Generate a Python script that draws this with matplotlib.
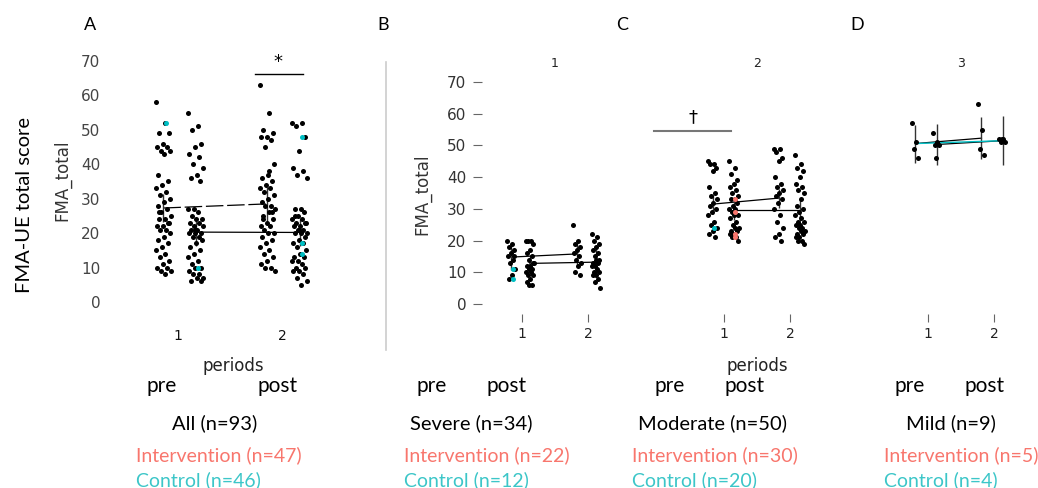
import numpy as np
import matplotlib.pyplot as plt
from matplotlib.lines import Line2D

W, H = 1038, 488
INT_COL = '#F8766D'
CTRL_COL = '#00BFC4'
CTRL_TXT = '#3CC6C8'
LABEL_FONT = ['Lato', 'DejaVu Sans']

# ---- data (left column = control, right column = intervention) ----
periods = [1, 2]
period_labels = ['1', '2']
panel_titles = ['1', '2', '3']
subgroups = ['All (n=93)', 'Severe (n=34)', 'Moderate (n=50)', 'Mild (n=9)']
int_labels = ['Intervention (n=47)', 'Intervention (n=22)', 'Intervention (n=30)', 'Intervention (n=5)']
ctrl_labels = ['Control (n=46)', 'Control (n=12)', 'Control (n=20)', 'Control (n=4)']

A_pre_ctrl = [58, 52, 49, 49, 46, 45, 45, 44, 44, 43, 37, 35, 34, 33, 32, 31, 30, 29, 28, 27,
              26, 25, 24, 24, 23, 22, 22, 21, 21, 20, 19, 18, 17, 16, 15, 14, 13, 12, 11, 10,
              10, 9, 9, 8, 26, 23]
A_pre_int = [55, 51, 50, 46, 45, 43, 42, 40, 39, 37, 36, 35, 27, 27, 26, 25, 24, 24, 23, 23,
             22, 22, 21, 21, 20, 20, 20, 19, 19, 18, 17, 16, 15, 14, 13, 12, 11, 10, 10, 9,
             8, 8, 7, 7, 6, 6, 21]
A_post_ctrl = [63, 55, 50, 49, 48, 48, 47, 45, 40, 37, 36, 35, 34, 33, 33, 32, 31, 30, 29, 28,
               28, 27, 26, 25, 24, 23, 22, 22, 21, 20, 20, 19, 18, 17, 16, 15, 14, 13, 12, 11,
               10, 10, 9, 38, 24, 26]
A_post_int = [52, 52, 51, 48, 44, 39, 38, 37, 36, 27, 27, 26, 25, 24, 24, 23, 23, 22, 22, 21,
              21, 20, 20, 20, 19, 18, 17, 17, 16, 15, 14, 13, 13, 12, 12, 11, 10, 10, 9, 9,
              8, 7, 6, 5, 25, 23, 21]

B_pre_ctrl = [20, 19, 18, 17, 16, 15, 14, 13, 11, 9, 8, 15]
B_pre_int = [20, 20, 20, 19, 17, 16, 15, 14, 13, 12, 12, 11, 11, 10, 10, 9, 9, 8, 7, 6, 6, 13]
B_post_ctrl = [25, 20, 19, 18, 17, 16, 15, 14, 13, 12, 10, 9]
B_post_int = [22, 21, 20, 19, 18, 17, 16, 15, 14, 14, 13, 13, 12, 12, 11, 10, 10, 9, 9, 8, 7, 5]

C_pre_ctrl = [45, 44, 44, 43, 42, 37, 35, 34, 33, 32, 31, 30, 29, 28, 26, 25, 24, 23, 22, 21]
C_pre_int = [45, 43, 41, 39, 38, 37, 36, 35, 34, 33, 33, 32, 31, 30, 30, 29, 28, 28, 27, 26,
             25, 24, 24, 23, 23, 22, 22, 21, 21, 20]
C_post_ctrl = [49, 49, 48, 46, 45, 40, 38, 37, 36, 35, 34, 33, 32, 30, 28, 26, 24, 22, 21, 20]
C_post_int = [47, 44, 43, 42, 40, 38, 37, 36, 35, 33, 31, 30, 29, 28, 27, 26, 26, 25, 25, 24,
              24, 23, 23, 22, 22, 21, 21, 20, 20, 19]

D_pre_ctrl = [57, 51, 49, 46]
D_pre_int = [54, 51, 50, 50, 46]
D_post_ctrl = [63, 55, 49, 47]
D_post_int = [52, 52, 51, 51, 52]

# group means and error half-widths [pre, post]
A_mean_ctrl, A_mean_int = [27.3, 28.5], [20.3, 20.2]
A_err_ctrl, A_err_int = [4, 5], [4, 4]
B_mean_ctrl, B_mean_int = [14.8, 15.8], [12.8, 13.2]
B_err_ctrl, B_err_int = [4, 3.6], [2.5, 4.3]
C_mean_ctrl, C_mean_int = [31.5, 33.4], [29.6, 29.6]
C_err_ctrl, C_err_int = [3, 3], [3.2, 3.4]
D_mean_ctrl, D_mean_int = [50.6, 52.3], [50.3, 51.5]
D_err_ctrl, D_err_int = [6, 6.6], [6.5, 7.7]

# a few dots whose colour shows through
A_cyan = [(1, 0, 52), (1, 1, 10), (2, 1, 48), (2, 1, 17), (2, 1, 14)]
B_cyan = [(1, 0, 8), (1, 0, 11)]
C_salmon = [(1, 1, 33), (1, 1, 22), (1, 1, 21), (1, 1, 29)]
C_cyan = [(1, 0, 24)]


def fx(px):
    return px / W


def fy(py):
    return 1 - py / H


def jitter(n):
    return (np.arange(n) * 0.618034) % 1 - 0.5


def draw_panel(ax, cols, offs, jw, means, errs, extra=(), dashed=False):
    # cols: [[pre_ctrl, post_ctrl], [pre_int, post_int]]
    for g in range(2):
        for p in range(2):
            vals = cols[g][p]
            xs = periods[p] + offs[g] + jitter(len(vals)) * jw
            ax.scatter(xs, vals, s=13, c='black', lw=0, zorder=3)
    for (p, g, v, col) in extra:
        ax.scatter(p + offs[g] + 0.02, v, s=13, c=col, lw=0, zorder=4)
    for g in range(2):
        xs = [periods[0] + offs[g], periods[1] + offs[g]]
        ls = (0, (14, 3)) if (dashed and g == 0) else '-'
        ax.plot(xs, means[g], color='black', lw=0.9, ls=ls, zorder=2)
        for p in range(2):
            ax.vlines(xs[p], means[g][p] - errs[g][p], means[g][p] + errs[g][p],
                      color='#333333', lw=1, zorder=2)
    for s in ax.spines.values():
        s.set_visible(False)


fig = plt.figure(figsize=(W / 100, H / 100), dpi=100)

# ---- panel A ----
axA = fig.add_axes([fx(110), fy(318), 240 / W, 268 / H])
axA.set_xlim(1 - 68 / 104, 2 + 68 / 104)
axA.set_ylim(-16 / 3.443, 252 / 3.443)
draw_panel(axA, [[A_pre_ctrl, A_post_ctrl], [A_pre_int, A_post_int]], [-0.14, 0.17], 0.15,
           [A_mean_ctrl, A_mean_int], [A_err_ctrl, A_err_int],
           extra=[(p, g, v, CTRL_COL) for p, g, v in A_cyan], dashed=True)
axA.set_yticks(range(0, 80, 10))
axA.set_xticks(periods, period_labels)
axA.tick_params(axis='y', length=0, pad=7, labelsize=11, labelcolor='#444444')
axA.tick_params(axis='x', length=0, pad=8, labelsize=10, labelcolor='#111111')
axA.plot([1.74, 2.20], [66.2, 66.2], color='black', lw=1, clip_on=False)
axA.text(1.96, 67.0, '*', ha='center', va='bottom', fontsize=13)

# ---- panels B, C, D ----
ymin, ymax = (304 - 314) / 3.171, (304 - 74) / 3.171
x1_px = [522, 724, 928]
axes = []
for i, x1 in enumerate(x1_px):
    ax = fig.add_axes([fx(x1 - 0.6 * 66), fy(314), 145.2 / W, 240 / H])
    ax.set_xlim(0.4, 2.6)
    ax.set_ylim(ymin, ymax)
    ax.set_xticks(periods, period_labels)
    ax.tick_params(axis='x', length=6, width=0.8, color='#666666', pad=3,
                   labelsize=10, labelcolor='#222222')
    ax.set_title(panel_titles[i], fontsize=9, pad=5, color='#222222')
    axes.append(ax)
axB, axC, axD = axes

draw_panel(axB, [[B_pre_ctrl, B_post_ctrl], [B_pre_int, B_post_int]], [-0.16, 0.12], 0.12,
           [B_mean_ctrl, B_mean_int], [B_err_ctrl, B_err_int],
           extra=[(p, g, v, CTRL_COL) for p, g, v in B_cyan])
axB.set_yticks(range(0, 80, 10))
axB.tick_params(axis='y', length=6.5, width=0.8, color='#666666', pad=5,
                labelsize=11, labelcolor='#333333')
axB.get_xticklines()[0].set_color(CTRL_COL)

draw_panel(axC, [[C_pre_ctrl, C_post_ctrl], [C_pre_int, C_post_int]], [-0.17, 0.15], 0.15,
           [C_mean_ctrl, C_mean_int], [C_err_ctrl, C_err_int],
           extra=[(p, g, v, INT_COL) for p, g, v in C_salmon] + [(p, g, v, CTRL_COL) for p, g, v in C_cyan])
axC.set_yticks([])
axC.plot([-0.06, 1.11], [54.6, 54.6], color='#777777', lw=1.5, clip_on=False)
axC.text(0.53, 56.0, '\u2020', ha='center', va='bottom', fontsize=13)

draw_panel(axD, [[D_pre_ctrl, D_post_ctrl], [D_pre_int, D_post_int]], [-0.19, 0.13], 0.1,
           [D_mean_ctrl, D_mean_int], [D_err_ctrl, D_err_int])
axD.plot([1 - 0.19, 2 + 0.13], [D_mean_ctrl[0], D_mean_int[1]], color=CTRL_COL, lw=1, zorder=2)
axD.set_yticks([])

# ---- figure-level text ----
fig.text(fx(25), fy(205), 'FMA-UE total score', rotation=90, ha='center', va='center',
         fontsize=14.5, family=LABEL_FONT)
fig.text(fx(62), fy(180), 'FMA_total', rotation=90, ha='center', va='center',
         fontsize=12, color='#333333')
fig.text(fx(422), fy(194), 'FMA_total', rotation=90, ha='center', va='center',
         fontsize=12, color='#333333')
fig.add_artist(Line2D([fx(386)] * 2, [fy(62), fy(350)], color='#cccccc', lw=1.2))

for letter, px in zip('ABCD', [90, 383, 622, 857]):
    fig.text(fx(px), fy(25), letter, ha='center', va='center', fontsize=13, family=LABEL_FONT)

for px in [233, 757]:
    fig.text(fx(px), fy(366), 'periods', ha='center', va='center', fontsize=12, color='#222222')

pre_px = [162, 432, 670, 910]
post_px = [278, 507, 745, 985]
sub_px = [215, 471, 713, 951]
left_px = [136, 404, 632, 884]
for i in range(4):
    fig.text(fx(pre_px[i]), fy(386), 'pre', ha='center', va='center', fontsize=15, family=LABEL_FONT)
    fig.text(fx(post_px[i]), fy(386), 'post', ha='center', va='center', fontsize=15, family=LABEL_FONT)
    fig.text(fx(sub_px[i]), fy(423), subgroups[i], ha='center', va='center', fontsize=14.5,
             family=LABEL_FONT)
    fig.text(fx(left_px[i]), fy(455), int_labels[i], ha='left', va='center', fontsize=14,
             color=INT_COL, family=LABEL_FONT)
    fig.text(fx(left_px[i]), fy(480), ctrl_labels[i], ha='left', va='center', fontsize=14,
             color=CTRL_TXT, family=LABEL_FONT)

fig.savefig('out.png', dpi=100)
